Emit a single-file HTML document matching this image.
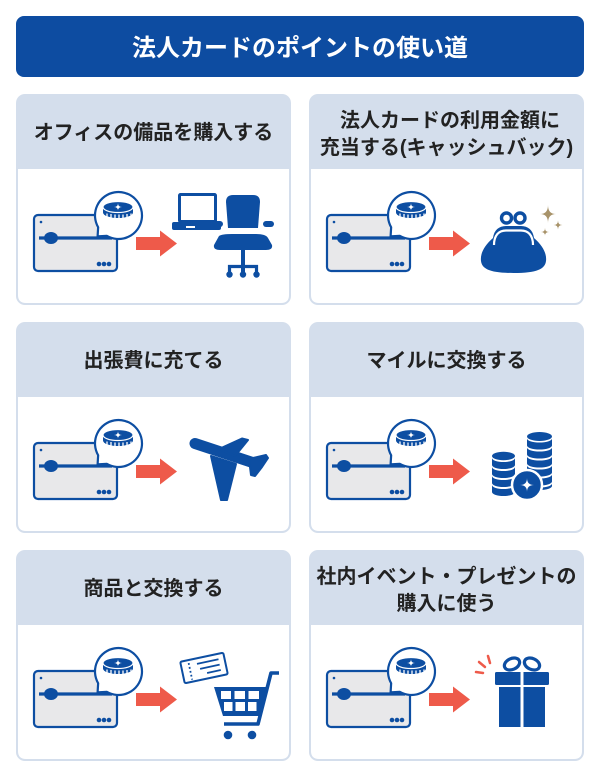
<!DOCTYPE html>
<html><head><meta charset="utf-8">
<style>
html,body{margin:0;padding:0;background:#fff;}
svg{display:block;}
.t{font-family:"Liberation Sans","Noto Sans CJK JP",sans-serif;font-weight:700;}
</style></head>
<body>
<svg width="600" height="778" viewBox="0 0 600 778" xmlns="http://www.w3.org/2000/svg">
<defs>
  <g id="card">
    <rect x="0" y="0" width="275" height="211" rx="9" fill="#d4deec"/>
    <path d="M2,75 H273 V201 Q273,209 265,209 H10 Q2,209 2,201 Z" fill="#fff"/>
  </g>
  <g id="ill">
    <rect x="18" y="121" width="83" height="56" rx="4" fill="#e8e8ea" stroke="#0d4ea2" stroke-width="2.2"/>
    <circle cx="25" cy="128" r="1.3" fill="#0d4ea2"/>
    <line x1="23" y1="144" x2="96" y2="144" stroke="#0d4ea2" stroke-width="3.2"/>
    <ellipse cx="35" cy="144" rx="7" ry="6" fill="#0d4ea2"/>
    <circle cx="83" cy="170" r="2.3" fill="#0d4ea2"/>
    <circle cx="88" cy="170" r="2.3" fill="#0d4ea2"/>
    <circle cx="93" cy="170" r="2.3" fill="#0d4ea2"/>
    <path d="M90.75,141.85 L81.6,142.4 L82.15,133.25 A23.5,23.5 0 1 1 90.75,141.85 Z" fill="#fff" stroke="#0d4ea2" stroke-width="2.2" stroke-linejoin="round"/>
    <path d="M87,113 V118.5 A15,5.5 0 0 0 117,118.5 V113 Z" fill="#0d4ea2"/>
    <g stroke="#fff" stroke-width="1.3">
      <line x1="91" y1="119.5" x2="91" y2="123"/>
      <line x1="95" y1="120" x2="95" y2="124"/>
      <line x1="99" y1="120.5" x2="99" y2="124.5"/>
      <line x1="103" y1="120.5" x2="103" y2="124.5"/>
      <line x1="107" y1="120.5" x2="107" y2="124.5"/>
      <line x1="111" y1="120" x2="111" y2="124"/>
      <line x1="115" y1="119.5" x2="115" y2="123"/>
    </g>
    <ellipse cx="102" cy="113" rx="15" ry="5.5" fill="#0d4ea2" stroke="#fff" stroke-width="1.2"/>
    <path d="M102,109 Q102,113 106,113 Q102,113 102,117 Q102,113 98,113 Q102,113 102,109 Z" fill="#fff"/>
    <rect x="120" y="143" width="25" height="13" fill="#ee5a4a"/>
    <polygon points="144,136.5 161,149.5 144,162.5" fill="#ee5a4a"/>
  </g>
</defs>

<!-- header -->
<rect x="16" y="16" width="568" height="61" rx="8" fill="#0d4ca1"/>
<text class="t" x="300" y="56" font-size="24" fill="#fff" text-anchor="middle">法人カードのポイントの使い道</text>

<!-- cards -->
<use href="#card" x="16" y="94"/>
<use href="#card" x="309" y="94"/>
<use href="#card" x="16" y="322"/>
<use href="#card" x="309" y="322"/>
<use href="#card" x="16" y="550"/>
<use href="#card" x="309" y="550"/>

<!-- titles -->
<g class="t" font-size="20" fill="#222" text-anchor="middle">
  <text x="153.5" y="139">オフィスの備品を購入する</text>
  <text x="450" y="127">法人カードの利用金額に</text>
  <text x="446.5" y="154">充当する(キャッシュバック)</text>
  <text x="153.5" y="367">出張費に充てる</text>
  <text x="446.5" y="367">マイルに交換する</text>
  <text x="153.5" y="595">商品と交換する</text>
  <text x="446.5" y="583">社内イベント・プレゼントの</text>
  <text x="446.5" y="610">購入に使う</text>
</g>

<!-- common illustrations -->
<use href="#ill" x="16" y="94"/>
<use href="#ill" x="309" y="94"/>
<use href="#ill" x="16" y="322"/>
<use href="#ill" x="309" y="322"/>
<use href="#ill" x="16" y="550"/>
<use href="#ill" x="309" y="550"/>

<g fill="#0d4ea2">
  <!-- Card 1: laptop + chair -->
  <rect x="179.5" y="194.5" width="36" height="27" rx="1" fill="#fff" stroke="#0d4ea2" stroke-width="3"/>
  <rect x="172" y="222" width="49" height="8" rx="2"/>
  <rect x="186" y="226" width="9" height="2" fill="#fff"/>
  <path d="M228,228 L226,202 Q226,195 233,195 L253,195 Q260,195 260,202 L258,228 Z"/>
  <rect x="212" y="221" width="11" height="6" rx="3"/>
  <rect x="263" y="221" width="11" height="6" rx="3"/>
  <path d="M219,236 Q222,234 232,234 L256,234 Q266,234 268,238 L272,245 Q273,250 266,250 L220,250 Q213,250 214,245 Z"/>
  <rect x="241" y="250" width="4" height="22"/>
  <path d="M229.5,273 V266.5 H256.5 V273" fill="none" stroke="#0d4ea2" stroke-width="3.2"/>
  <circle cx="229.5" cy="274.5" r="3.2"/>
  <circle cx="243" cy="274.5" r="3.2"/>
  <circle cx="256.5" cy="274.5" r="3.2"/>

  <!-- Card 2: purse -->
  <path d="M493,238 C494,230 499,226 506,226 L521,226 C528,226 533,230 534,238 C542,245 547,253 546,261 C545,269 537,273 513.5,273 C490,273 482,269 481,261 C480,253 485,245 493,238 Z"/>
  <path d="M494,245 C494,235 499,230.5 506,230.5 L521,230.5 C528,230.5 533,235 533,245" fill="none" stroke="#fff" stroke-width="2.2"/>
  <circle cx="506.5" cy="218" r="5" fill="#fff" stroke="#0d4ea2" stroke-width="3.4"/>
  <circle cx="520" cy="218" r="5" fill="#fff" stroke="#0d4ea2" stroke-width="3.4"/>
</g>
<g fill="#a8936a">
  <path d="M548,205 Q548,214 556,214 Q548,214 548,223 Q548,214 540,214 Q548,214 548,205 Z"/>
  <path d="M558,220.5 Q558,225 562.5,225 Q558,225 558,229.5 Q558,225 553.5,225 Q558,225 558,220.5 Z"/>
  <path d="M545,228 Q545,232 549,232 Q545,232 545,236 Q545,232 541,232 Q545,232 545,228 Z"/>
</g>

<g fill="#0d4ea2" stroke="#0d4ea2">
  <!-- Card 3: plane -->
  <line x1="195" y1="443.5" x2="257" y2="464" stroke-width="11" stroke-linecap="round"/>
  <polygon points="219,449 242,438.5 248,440 235,456" stroke-width="2" stroke-linejoin="round"/>
  <polygon points="211,456 236,464 227,500 221,500" stroke-width="2" stroke-linejoin="round"/>
  <polygon points="249,459 266,455 268,458 262,467 255,476 251,475" stroke-width="2" stroke-linejoin="round"/>
</g>

<g fill="#0d4ea2">
  <!-- Card 4: coins -->
  <path d="M527,438.5 A12.5,4 0 0 0 552,438.5 V445.5 A12.5,4 0 0 1 527,445.5 Z"/>
  <path d="M527,447.5 A12.5,4 0 0 0 552,447.5 V454.5 A12.5,4 0 0 1 527,454.5 Z"/>
  <path d="M527,456.5 A12.5,4 0 0 0 552,456.5 V463.5 A12.5,4 0 0 1 527,463.5 Z"/>
  <path d="M527,465.5 A12.5,4 0 0 0 552,465.5 V472.5 A12.5,4 0 0 1 527,472.5 Z"/>
  <path d="M527,474.5 A12.5,4 0 0 0 552,474.5 V481.5 A12.5,4 0 0 1 527,481.5 Z"/>
  <path d="M527,483.5 A12.5,4 0 0 0 552,483.5 V486 A12.5,4 0 0 1 527,486 Z"/>
  <ellipse cx="539.5" cy="436.5" rx="12.5" ry="4.5"/>
  <path d="M492,458 A11.5,4 0 0 0 515,458 V465 A11.5,4 0 0 1 492,465 Z"/>
  <path d="M492,467 A11.5,4 0 0 0 515,467 V474 A11.5,4 0 0 1 492,474 Z"/>
  <path d="M492,476 A11.5,4 0 0 0 515,476 V483 A11.5,4 0 0 1 492,483 Z"/>
  <path d="M492,485 A11.5,4 0 0 0 515,485 V492 A11.5,4 0 0 1 492,492 Z"/>
  <ellipse cx="503.5" cy="456" rx="11.5" ry="4.2"/>
  <circle cx="527" cy="485" r="15" stroke="#fff" stroke-width="2.5"/>
  <path d="M527,478 Q527,485 534,485 Q527,485 527,492 Q527,485 520,485 Q527,485 527,478 Z" fill="#fff"/>

  <!-- Card 5: ticket + cart -->
  <g transform="rotate(-12 204 668)">
    <rect x="182" y="657" width="44" height="22" rx="1.5" fill="#fff" stroke="#0d4ea2" stroke-width="2"/>
    <line x1="190" y1="660" x2="190" y2="677" stroke="#0d4ea2" stroke-width="1.8" stroke-dasharray="1.8 2.2"/>
    <line x1="198" y1="662.5" x2="220" y2="662.5" stroke="#0d4ea2" stroke-width="1.8"/>
    <line x1="200" y1="668" x2="220" y2="668" stroke="#0d4ea2" stroke-width="1.8"/>
    <line x1="206" y1="673.5" x2="220" y2="673.5" stroke="#0d4ea2" stroke-width="1.8"/>
  </g>
  <polygon points="214,687 267,687 259,716 223,716"/>
  <g fill="#fff">
    <rect x="221" y="691" width="10" height="8"/>
    <rect x="234.5" y="691" width="10.5" height="8"/>
    <rect x="248.5" y="691" width="10.5" height="8"/>
    <rect x="224" y="702" width="8.5" height="9"/>
    <rect x="235.5" y="702" width="9.5" height="9"/>
    <rect x="248" y="702" width="8.5" height="9"/>
  </g>
  <path d="M279,673 L271,673 L258,724 L224,724" fill="none" stroke="#0d4ea2" stroke-width="3.6" stroke-linejoin="round"/>
  <circle cx="228" cy="735" r="4.3"/>
  <circle cx="252" cy="735" r="4.3"/>

  <!-- Card 6: gift -->
  <ellipse cx="512" cy="664" rx="8" ry="5.5" transform="rotate(-25 512 664)" fill="none" stroke="#0d4ea2" stroke-width="3.2"/>
  <ellipse cx="532" cy="664" rx="8" ry="5.5" transform="rotate(25 532 664)" fill="none" stroke="#0d4ea2" stroke-width="3.2"/>
  <rect x="495" y="672" width="54" height="13" rx="1.5"/>
  <rect x="499" y="687" width="46" height="40"/>
  <rect x="520.5" y="670" width="3" height="57" fill="#fff"/>
</g>
<g stroke="#ee5a4a" stroke-width="2.5" stroke-linecap="round">
  <line x1="490" y1="663" x2="488" y2="656"/>
  <line x1="485" y1="667" x2="479" y2="662"/>
  <line x1="483" y1="673" x2="476" y2="672"/>
</g>
</svg>
</body></html>
